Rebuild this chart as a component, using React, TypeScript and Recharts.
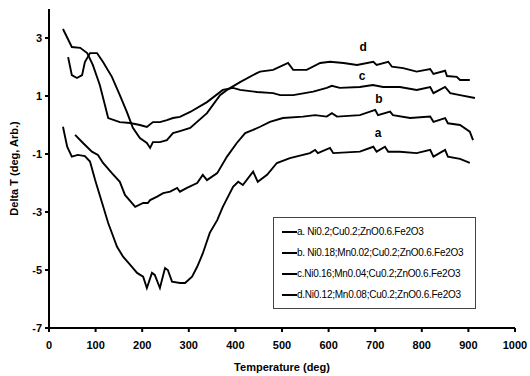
import { LineChart, Line, XAxis, YAxis, Legend, ReferenceDot, Label } from "recharts";

const xTicks = [0, 100, 200, 300, 400, 500, 600, 700, 800, 900, 1000];
const xMinorTicks = [50, 150, 250, 350, 450, 550, 650, 750, 850, 950];
const yTicks = [-7, -5, -3, -1, 1, 3];
const yMinorTicks = [-6, -4, -2, 0, 2, 4];

const curveLetters = ["a", "b", "c", "d"];
const sampleNames = [
    "a. Ni0.2;Cu0.2;ZnO0.6.Fe2O3",
    "b. Ni0.18;Mn0.02;Cu0.2;ZnO0.6.Fe2O3",
    "c.Ni0.16;Mn0.04;Cu0.2;ZnO0.6.Fe2O3",
    "d.Ni0.12;Mn0.08;Cu0.2;ZnO0.6.Fe2O3"
];

// temperature (deg) / delta T pairs
const aTemp = [30, 39, 49, 62, 77, 88, 99, 114, 127, 146, 159, 178, 189, 202, 210, 221, 227, 238, 249, 255, 264, 281, 292, 307, 318, 330, 345, 361, 373, 395, 406, 416, 438, 448, 468, 489, 517, 545, 560, 571, 577, 603, 610, 667, 696, 703, 721, 728, 753, 789, 818, 825, 850, 856, 882, 903];
const aDelta = [-0.06, -0.75, -1.09, -1.03, -1.07, -1.26, -1.9, -2.69, -3.38, -4.2, -4.54, -4.89, -5.1, -5.23, -5.62, -5.1, -5.17, -5.62, -4.93, -5.0, -5.4, -5.45, -5.45, -5.23, -4.89, -4.43, -3.72, -3.28, -2.82, -2.13, -1.96, -2.07, -1.61, -1.96, -1.72, -1.31, -1.14, -1.03, -0.97, -0.86, -0.97, -0.79, -0.97, -0.92, -0.75, -0.92, -0.75, -0.92, -0.92, -0.97, -0.86, -1.09, -0.86, -1.09, -1.17, -1.31];

const bTemp = [56, 73, 92, 105, 116, 135, 152, 163, 185, 202, 212, 217, 232, 245, 260, 275, 281, 296, 318, 330, 339, 361, 382, 403, 421, 438, 453, 474, 502, 545, 571, 596, 607, 618, 667, 700, 706, 732, 738, 775, 818, 825, 850, 856, 882, 903, 910];
const bDelta = [-0.34, -0.62, -0.92, -1.03, -1.31, -1.66, -1.96, -2.41, -2.82, -2.69, -2.69, -2.59, -2.47, -2.35, -2.3, -2.17, -2.3, -2.17, -2.0, -1.72, -1.9, -1.66, -1.09, -0.62, -0.28, -0.17, -0.06, 0.11, 0.24, 0.29, 0.34, 0.29, 0.41, 0.29, 0.34, 0.52, 0.34, 0.46, 0.34, 0.24, 0.29, 0.11, 0.24, 0.06, 0.0, -0.23, -0.52];

const cTemp = [30, 49, 67, 82, 94, 109, 120, 127, 152, 174, 195, 210, 223, 238, 253, 266, 281, 303, 339, 373, 395, 410, 446, 481, 496, 524, 567, 596, 607, 624, 667, 695, 717, 753, 789, 818, 825, 850, 861, 882, 914];
const cDelta = [3.31, 2.69, 2.66, 2.48, 2.07, 1.38, 0.69, 0.24, 0.1, 0.07, 0.0, -0.07, 0.1, 0.1, 0.17, 0.24, 0.28, 0.45, 0.79, 1.21, 1.28, 1.21, 1.14, 1.1, 1.03, 1.03, 1.15, 1.28, 1.35, 1.28, 1.31, 1.38, 1.31, 1.31, 1.21, 1.31, 1.1, 1.31, 1.1, 1.03, 0.93];

const dTemp = [41, 49, 60, 71, 77, 88, 103, 116, 135, 152, 167, 180, 195, 210, 217, 223, 238, 253, 266, 281, 303, 339, 367, 382, 410, 446, 453, 481, 513, 524, 553, 582, 603, 632, 661, 696, 703, 728, 736, 760, 789, 818, 825, 850, 854, 875, 882, 903];
const dDelta = [2.34, 1.72, 1.62, 1.72, 2.17, 2.48, 2.48, 2.17, 1.66, 1.03, 0.45, -0.1, -0.45, -0.62, -0.79, -0.59, -0.59, -0.52, -0.28, -0.21, -0.1, 0.41, 1.03, 1.21, 1.48, 1.79, 1.84, 1.9, 2.14, 1.9, 1.9, 2.14, 2.18, 2.14, 2.07, 2.18, 2.07, 2.18, 2.01, 1.96, 1.84, 1.93, 1.76, 1.87, 1.69, 1.66, 1.55, 1.55];

// where the a-d letters sit, in data units
const letterTemp = [706, 708, 672, 674];
const letterDelta = [-0.28, 0.9, 1.69, 2.69];

const toPoints = (temps: number[], deltas: number[]) => temps.map((t, i) => ({ t, v: deltas[i] }));

const series = [
    toPoints(aTemp, aDelta),
    toPoints(bTemp, bDelta),
    toPoints(cTemp, cDelta),
    toPoints(dTemp, dDelta)
];

const font = "'Liberation Sans', Arial, sans-serif";
const tickStyle = { fontSize: 11, fontWeight: 700, fill: "#000", fontFamily: font };

function LegendBox() {
    return (
        <div style={{ border: "1px solid #444", background: "#fff", padding: "3px 0 3px 8px", width: 193, fontFamily: font }}>
            {sampleNames.map((name) => (
                <div key={name} style={{ display: "flex", alignItems: "center", height: 21 }}>
                    <span style={{ display: "inline-block", width: 15, height: 2, background: "#000" }} />
                    <span style={{ fontSize: 10, letterSpacing: -0.25, color: "#000", whiteSpace: "nowrap" }}>{name}</span>
                </div>
            ))}
        </div>
    );
}

export default function App() {
    return (
        <div style={{ position: "absolute", left: 0, top: 0, width: 530, height: 376, background: "#fff" }}>
            <LineChart width={530} height={376} margin={{ top: 9, right: 15, left: 9, bottom: 18 }}>
                <XAxis xAxisId="minor" type="number" dataKey="t" domain={[0, 1000]} ticks={xMinorTicks} height={0} mirror tick={false} axisLine={false} tickSize={3} stroke="#000" />
                <XAxis type="number" dataKey="t" domain={[0, 1000]} ticks={xTicks} height={30} tickSize={4} tickMargin={9} tick={tickStyle} stroke="#000" strokeWidth={2} allowDataOverflow>
                    <Label value="Temperature (deg)" position="bottom" offset={5} style={{ fontSize: 11, fontWeight: 700, fill: "#000", fontFamily: font }} />
                </XAxis>
                <XAxis xAxisId="top" type="number" orientation="top" domain={[0, 1000]} height={0} tick={false} tickLine={false} stroke="#000" strokeWidth={2} />
                <YAxis yAxisId="minor" type="number" domain={[-7, 4]} ticks={yMinorTicks} width={0} mirror tick={false} axisLine={false} tickSize={3} stroke="#000" />
                <YAxis type="number" domain={[-7, 4]} ticks={yTicks} width={40} tickSize={4} tickMargin={3} tick={tickStyle} stroke="#000" strokeWidth={2} allowDataOverflow>
                    <Label value="Delta T (deg, Arb.)" angle={-90} position="insideLeft" offset={5} style={{ textAnchor: "middle", fontSize: 11, fontWeight: 700, fill: "#000", fontFamily: font }} />
                </YAxis>
                <YAxis yAxisId="right" orientation="right" type="number" domain={[-7, 4]} width={0} tick={false} tickLine={false} stroke="#000" strokeWidth={2} />
                {series.map((pts, i) => (
                    <Line
                        key={curveLetters[i]}
                        data={pts}
                        dataKey="v"
                        name={sampleNames[i]}
                        type="linear"
                        stroke="#000"
                        strokeWidth={1.9}
                        dot={false}
                        isAnimationActive={false}
                    />
                ))}
                {curveLetters.map((letter, i) => (
                    <ReferenceDot
                        key={letter}
                        x={letterTemp[i]}
                        y={letterDelta[i]}
                        r={0}
                        stroke="none"
                        label={{ value: letter, position: "center", style: { fontSize: 12, fontWeight: 700, fill: "#000", fontFamily: font } }}
                    />
                ))}
                <Legend
                    layout="vertical"
                    align="center"
                    verticalAlign="middle"
                    content={() => <LegendBox />}
                    wrapperStyle={{ left: 273, top: 217, width: 202 }}
                />
            </LineChart>
        </div>
    );
}
